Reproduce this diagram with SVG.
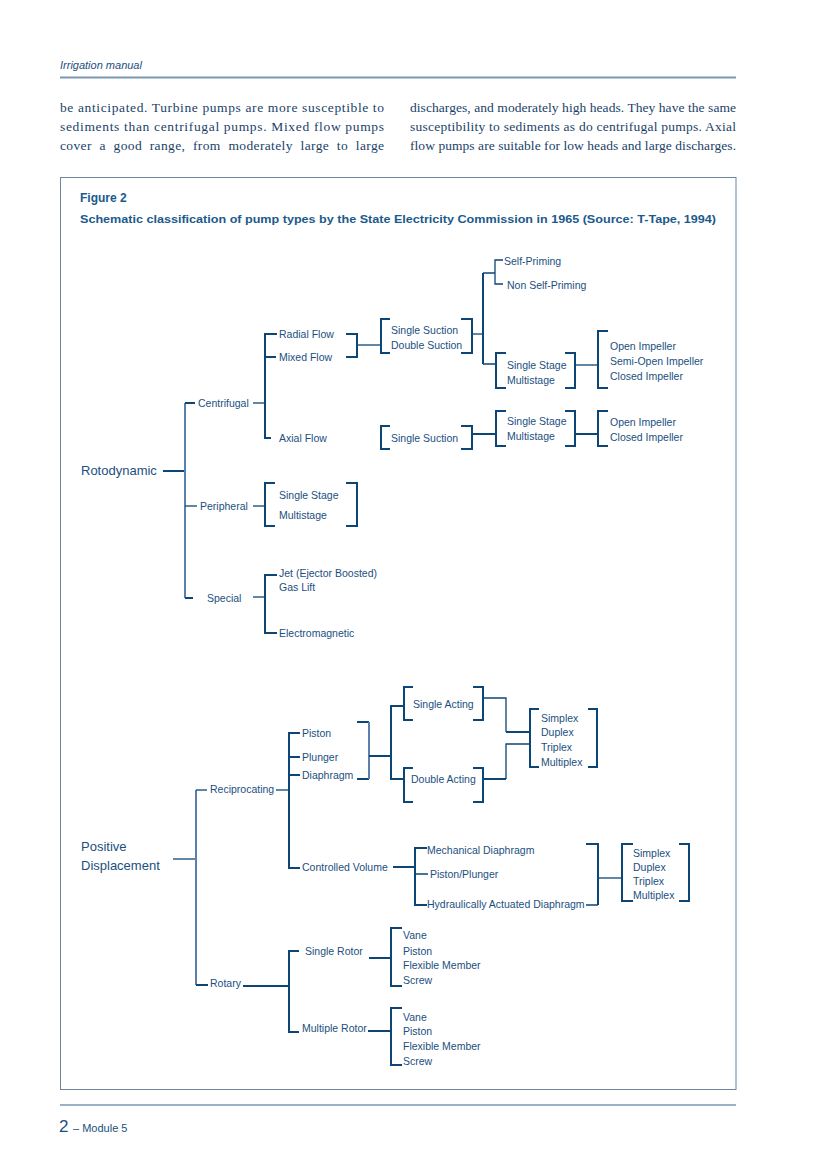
<svg xmlns="http://www.w3.org/2000/svg" width="826" height="1169" viewBox="0 0 826 1169">
<style>
.t{font-family:"Liberation Sans",Arial,sans-serif;font-size:10.5px;fill:#1b4f80}
.big{font-size:13px}
.b{font-family:"Liberation Serif","Times New Roman",serif;font-size:13.5px;fill:#1b3f6a}
.l{fill:none;stroke:#0b4677;stroke-width:2}
.n{fill:none;stroke:#0b4677;stroke-width:1.3}
.lt{fill:none;stroke:#5b80ad;stroke-width:2}
</style>
<rect width="826" height="1169" fill="#fff"/>
<g id="header">
<text x="60" y="69" font-family="Liberation Sans,Arial,sans-serif" font-size="11" font-style="italic" fill="#1b4f80">Irrigation manual</text>
<line x1="60" y1="77.5" x2="736" y2="77.5" stroke="#7a98b3" stroke-width="2"/>
<text class="b" x="60" y="112" textLength="324" lengthAdjust="spacing">be anticipated. Turbine pumps are more susceptible to</text>
<text class="b" x="60" y="131" textLength="324" lengthAdjust="spacing">sediments than centrifugal pumps. Mixed flow pumps</text>
<text class="b" x="60" y="150" textLength="324" lengthAdjust="spacing" word-spacing="4">cover a good range, from moderately large to large</text>
<text class="b" x="410" y="112" textLength="326" lengthAdjust="spacing">discharges, and moderately high heads. They have the same</text>
<text class="b" x="410" y="131" textLength="326" lengthAdjust="spacing">susceptibility to sediments as do centrifugal pumps. Axial</text>
<text class="b" x="410" y="150" textLength="326" lengthAdjust="spacing">flow pumps are suitable for low heads and large discharges.</text>
</g>
<rect id="frame" x="60.5" y="177.5" width="675.5" height="912" fill="none" stroke="#6b87a0" stroke-width="1"/>
<g id="caption">
<text x="80" y="202" font-family="Liberation Sans,Arial,sans-serif" font-size="12" font-weight="bold" fill="#1b5a8c">Figure 2</text>
<text x="80" y="223" font-family="Liberation Sans,Arial,sans-serif" font-size="11" font-weight="bold" fill="#1b5a8c" textLength="636" lengthAdjust="spacingAndGlyphs">Schematic classification of pump types by the State Electricity Commission in 1965 (Source: T-Tape, 1994)</text>
</g>
<g id="connectors">
<path class="l" d="M163 471H185"/>
<path class="lt" d="M185 403V598"/>
<path class="l" d="M185 403H195M185 598H193"/>
<path class="n" d="M185 506H197"/>
<path class="n" d="M253 403H264"/>
<path class="l" d="M277 334H265V438H271M265 357H276"/>
<path class="l" d="M346 334H357V357H346"/>
<path class="n" d="M357 345H380"/>
<path class="l" d="M390 319H381V353H390M461 319H472V353H461"/>
<path class="n" d="M472 334H483"/>
<path class="l" d="M483 273V364"/>
<path class="n" d="M483 273H495M483 364H495"/>
<path class="n" d="M503 260H495V284H503"/>
<path class="l" d="M506 353H496V388H506M565 353H575V388H565"/>
<path class="n" d="M575 365H597"/>
<path class="l" d="M608 331H598V388H608"/>
<path class="l" d="M390 426H381V449H390M461 426H472V449H461"/>
<path class="l" d="M472 434H495"/>
<path class="l" d="M506 411H496V446H506M565 411H575V446H565"/>
<path class="l" d="M575 434H597"/>
<path class="l" d="M608 411H598V446H608"/>
<path class="n" d="M253 506H264"/>
<path class="l" d="M275 483H265V526H275M346 483H357V526H346"/>
<path class="n" d="M253 597H264"/>
<path class="l" d="M277 575H265V633H277"/>
<path class="n" d="M173 859H196"/>
<path class="lt" d="M196 790V985"/>
<path class="n" d="M196 790H207"/>
<path class="l" d="M196 985H208"/>
<path class="n" d="M276 790H288"/>
<path class="l" d="M300 733H289V868H300M289 757H300M289 775H300"/>
<path class="l" d="M357 722H369M357 779H369"/>
<path class="lt" d="M369 722V779"/>
<path class="l" d="M369 756H391M403 706H391V779H403"/>
<path class="l" d="M413 687H404V720H413M473 687H483V720H473"/>
<path class="l" d="M413 768H404V802H413M473 768H483V802H473"/>
<path class="n" d="M483 698H506V732"/>
<path class="l" d="M506 732H529"/>
<path class="l" d="M483 779H506"/>
<path class="n" d="M506 779V744H529"/>
<path class="l" d="M539 709H530V767H539M588 709H597V767H588"/>
<path class="l" d="M393 867H414"/>
<path class="l" d="M427 848H415V905H427"/>
<path class="n" d="M415 874H428M586 905H598"/>
<path class="l" d="M586 844H598V905"/>
<path class="n" d="M598 878H621"/>
<path class="l" d="M633 844H622V901H633M679 844H689V901H679"/>
<path class="l" d="M243 986H289"/>
<path class="l" d="M299 951H289V1032H299"/>
<path class="l" d="M369 958H391M368 1031H391"/>
<path class="l" d="M402 928H391V986H402"/>
<path class="l" d="M402 1008H391V1065H402"/>
</g>
<g id="n-rotodynamic"><text class="t big" x="81" y="475">Rotodynamic</text></g>
<g id="n-centrifugal"><text class="t" x="198" y="407">Centrifugal</text></g>
<g id="n-flow">
<text class="t" x="279" y="338">Radial Flow</text>
<text class="t" x="279" y="361">Mixed Flow</text>
<text class="t" x="279" y="442">Axial Flow</text>
</g>
<g id="n-suction1">
<text class="t" x="391" y="334">Single Suction</text>
<text class="t" x="391" y="349">Double Suction</text>
</g>
<g id="n-priming">
<text class="t" x="504" y="265">Self-Priming</text>
<text class="t" x="507" y="289">Non Self-Priming</text>
</g>
<g id="n-stage1">
<text class="t" x="507" y="369">Single Stage</text>
<text class="t" x="507" y="384">Multistage</text>
</g>
<g id="n-impeller1">
<text class="t" x="610" y="350">Open Impeller</text>
<text class="t" x="610" y="365">Semi-Open Impeller</text>
<text class="t" x="610" y="380">Closed Impeller</text>
</g>
<g id="n-suction2"><text class="t" x="391" y="442">Single Suction</text></g>
<g id="n-stage2">
<text class="t" x="507" y="425">Single Stage</text>
<text class="t" x="507" y="440">Multistage</text>
</g>
<g id="n-impeller2">
<text class="t" x="610" y="426">Open Impeller</text>
<text class="t" x="610" y="441">Closed Impeller</text>
</g>
<g id="n-peripheral"><text class="t" x="200" y="510">Peripheral</text></g>
<g id="n-stage3">
<text class="t" x="279" y="499">Single Stage</text>
<text class="t" x="279" y="519">Multistage</text>
</g>
<g id="n-special"><text class="t" x="207" y="602">Special</text></g>
<g id="n-special-types">
<text class="t" x="279" y="577">Jet (Ejector Boosted)</text>
<text class="t" x="279" y="591">Gas Lift</text>
<text class="t" x="279" y="637">Electromagnetic</text>
</g>
<g id="n-positive">
<text class="t big" x="81" y="851">Positive</text>
<text class="t big" x="81" y="870">Displacement</text>
</g>
<g id="n-reciprocating"><text class="t" x="210" y="793">Reciprocating</text></g>
<g id="n-recip-types">
<text class="t" x="302" y="737">Piston</text>
<text class="t" x="302" y="761">Plunger</text>
<text class="t" x="302" y="779">Diaphragm</text>
<text class="t" x="302" y="871">Controlled Volume</text>
</g>
<g id="n-single-acting"><text class="t" x="413" y="708">Single Acting</text></g>
<g id="n-double-acting"><text class="t" x="411" y="783">Double Acting</text></g>
<g id="n-plex1">
<text class="t" x="541" y="722">Simplex</text>
<text class="t" x="541" y="736">Duplex</text>
<text class="t" x="541" y="751">Triplex</text>
<text class="t" x="541" y="766">Multiplex</text>
</g>
<g id="n-cv-types">
<text class="t" x="427" y="854">Mechanical Diaphragm</text>
<text class="t" x="430" y="878">Piston/Plunger</text>
<text class="t" x="427" y="908">Hydraulically Actuated Diaphragm</text>
</g>
<g id="n-plex2">
<text class="t" x="633" y="857">Simplex</text>
<text class="t" x="633" y="871">Duplex</text>
<text class="t" x="633" y="885">Triplex</text>
<text class="t" x="633" y="899">Multiplex</text>
</g>
<g id="n-rotary"><text class="t" x="210" y="987">Rotary</text></g>
<g id="n-rotor">
<text class="t" x="305" y="955">Single Rotor</text>
<text class="t" x="302" y="1032">Multiple Rotor</text>
</g>
<g id="n-single-rotor-types">
<text class="t" x="403" y="939">Vane</text>
<text class="t" x="403" y="955">Piston</text>
<text class="t" x="403" y="969">Flexible Member</text>
<text class="t" x="403" y="984">Screw</text>
</g>
<g id="n-multi-rotor-types">
<text class="t" x="403" y="1021">Vane</text>
<text class="t" x="403" y="1035">Piston</text>
<text class="t" x="403" y="1050">Flexible Member</text>
<text class="t" x="403" y="1065">Screw</text>
</g>
<g id="footer">
<line x1="60" y1="1105" x2="736" y2="1105" stroke="#7a98b3" stroke-width="1.5"/>
<text x="59" y="1132" font-family="Liberation Sans,Arial,sans-serif" font-size="17" fill="#1b4f80">2</text>
<text x="73" y="1132" font-family="Liberation Sans,Arial,sans-serif" font-size="11" fill="#1b4f80">– Module 5</text>
</g>
</svg>
